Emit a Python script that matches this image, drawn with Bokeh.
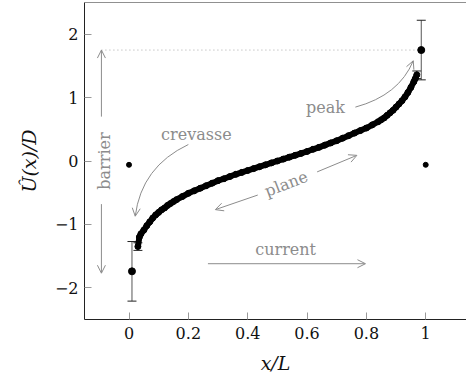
from bokeh.plotting import figure
from bokeh.models import Range1d, Arrow, OpenHead, Whisker, TeeHead, ColumnDataSource, Span, Label
from bokeh.embed import file_html
from bokeh.resources import INLINE

# ---- data ----
x_curve = [0.03, 0.035, 0.04, 0.05, 0.06, 0.07, 0.08, 0.09, 0.10, 0.11, 0.12, 0.13, 0.14, 0.15,
           0.16, 0.18, 0.20, 0.22, 0.24, 0.26, 0.28, 0.30, 0.32, 0.34, 0.36, 0.38, 0.40, 0.42,
           0.44, 0.46, 0.48, 0.50, 0.52, 0.54, 0.56, 0.58, 0.60, 0.62, 0.64, 0.66, 0.68, 0.70,
           0.72, 0.74, 0.76, 0.78, 0.80, 0.82, 0.84, 0.85, 0.86, 0.87, 0.88, 0.89, 0.90, 0.91,
           0.92, 0.93, 0.94, 0.95, 0.96, 0.965, 0.97]
y_curve = [-1.35, -1.20, -1.15, -1.09, -1.02, -0.96, -0.90, -0.85, -0.81, -0.77, -0.74, -0.70,
           -0.67, -0.64, -0.61, -0.56, -0.51, -0.47, -0.43, -0.39, -0.35, -0.31, -0.28, -0.245,
           -0.21, -0.18, -0.15, -0.12, -0.09, -0.06, -0.03, 0.00, 0.03, 0.06, 0.09, 0.12, 0.15,
           0.185, 0.215, 0.25, 0.285, 0.32, 0.36, 0.40, 0.44, 0.48, 0.52, 0.57, 0.62, 0.65, 0.68,
           0.72, 0.76, 0.80, 0.85, 0.90, 0.95, 1.01, 1.08, 1.16, 1.25, 1.30, 1.36]

x_small_err = [0.03, 0.97]
y_small_err = [-1.35, 1.36]
e_small = [0.06, 0.06]

x_peak = [0.01, 0.985]
y_peak = [-1.74, 1.75]
e_peak = [0.47, 0.47]

x_iso = [0.0, 1.0]
y_iso = [-0.06, -0.06]

x_ticks = [0, 0.2, 0.4, 0.6, 0.8, 1]
y_ticks = [-2, -1, 0, 1, 2]

FONT = "DejaVu Serif"
GREY = "#8c8c8c"

p = figure(width=466, height=376, x_range=Range1d(-0.15, 1.1375), y_range=Range1d(-2.5, 2.5),
           output_backend="svg", toolbar_location=None,
           min_border_left=84, min_border_right=0, min_border_top=2, min_border_bottom=55)
p.outline_line_color = None
p.grid.visible = False
p.background_fill_color = "white"

for ax in (p.xaxis[0], p.yaxis[0]):
    ax.major_tick_in = 7
    ax.major_tick_out = 0
    ax.minor_tick_line_color = None
    ax.major_tick_line_color = "#999999"
    ax.axis_line_color = "#222222"
    ax.major_label_text_font = FONT
    ax.major_label_text_font_size = "16px"
    ax.major_label_text_color = "#111111"
    ax.axis_label_text_font = FONT
    ax.axis_label_text_font_style = "italic"
    ax.axis_label_text_font_size = "19px"
    ax.axis_label_text_color = "#111111"

p.xaxis.ticker = x_ticks
p.yaxis.ticker = y_ticks
p.xaxis.major_label_overrides = {0: "0", 0.2: "0.2", 0.4: "0.4", 0.6: "0.6", 0.8: "0.8", 1: "1"}
p.yaxis.major_label_overrides = {-2: "\u22122", -1: "\u22121", 0: "0", 1: "1", 2: "2"}
p.xaxis.axis_label = "x/L"
p.yaxis.axis_label = "\u00db(x)/D"
p.xaxis.major_label_standoff = 7
p.yaxis.major_label_standoff = 6
p.xaxis.axis_label_standoff = 10
p.yaxis.axis_label_standoff = 12

p.add_layout(Span(location=2.5, dimension="width", line_color="#222222", line_width=1))

# dotted guide
p.line(x=[-0.093, 0.975], y=[y_peak[1], y_peak[1]], line_color="#aaaaaa", line_dash="1 3", line_width=1)

# curve
p.line(x=x_curve, y=y_curve, line_color="black", line_width=6)
p.scatter(x=x_curve, y=y_curve, size=6, color="black")

# error bars
src_s = ColumnDataSource(dict(x=x_small_err, up=[a + b for a, b in zip(y_small_err, e_small)],
                              lo=[a - b for a, b in zip(y_small_err, e_small)]))
p.add_layout(Whisker(source=src_s, base="x", upper="up", lower="lo", dimension="height",
                     line_color="#333333", line_width=1,
                     upper_head=TeeHead(size=9, line_color="#222222", line_width=1),
                     lower_head=TeeHead(size=9, line_color="#222222", line_width=1)))
src_p = ColumnDataSource(dict(x=x_peak, up=[a + b for a, b in zip(y_peak, e_peak)],
                              lo=[a - b for a, b in zip(y_peak, e_peak)]))
p.add_layout(Whisker(source=src_p, base="x", upper="up", lower="lo", dimension="height",
                     line_color="#555555", line_width=1,
                     upper_head=TeeHead(size=9, line_color="#222222", line_width=1),
                     lower_head=TeeHead(size=9, line_color="#222222", line_width=1)))
p.scatter(x=x_peak, y=y_peak, size=7, color="black")
p.scatter(x=x_iso, y=y_iso, size=5, color="black")

def arrow(x0, y0, x1, y1):
    p.add_layout(Arrow(end=OpenHead(size=8, line_color=GREY, line_width=1),
                       x_start=x0, y_start=y0, x_end=x1, y_end=y1,
                       line_color=GREY, line_width=1))

def curved(x0, y0, cx, cy, x1, y1):
    p.quadratic(x0=[x0], y0=[y0], x1=[x1], y1=[y1], cx=[cx], cy=[cy], line_color=GREY, line_width=1)
    arrow(x1 + 0.05 * (cx - x1), y1 + 0.05 * (cy - y1), x1, y1)

def label(x, y, t, angle=0):
    p.add_layout(Label(x=x, y=y, text=t, angle=angle, angle_units="deg", text_align="center",
                       text_baseline="middle", text_font=FONT, text_font_size="16px",
                       text_color=GREY))

# barrier
arrow(-0.093, 0.70, -0.093, 1.75)
arrow(-0.093, -0.68, -0.093, -1.77)
label(-0.083, 0.0, "barrier", angle=90)

# crevasse
label(0.227, 0.42, "crevasse")
curved(0.20, 0.26, 0.042, -0.09, 0.021, -0.87)

# peak
label(0.662, 0.84, "peak")
curved(0.763, 0.85, 0.910, 1.036, 0.958, 1.58)

# plane
arrow(0.434, -0.537, 0.291, -0.767)
arrow(0.634, -0.172, 0.768, 0.089)
label(0.53, -0.36, "plane", angle=21)

# current
arrow(0.266, -1.62, 0.797, -1.62)
label(0.528, -1.40, "current")

open("out.html", "w").write(file_html(p, INLINE))
